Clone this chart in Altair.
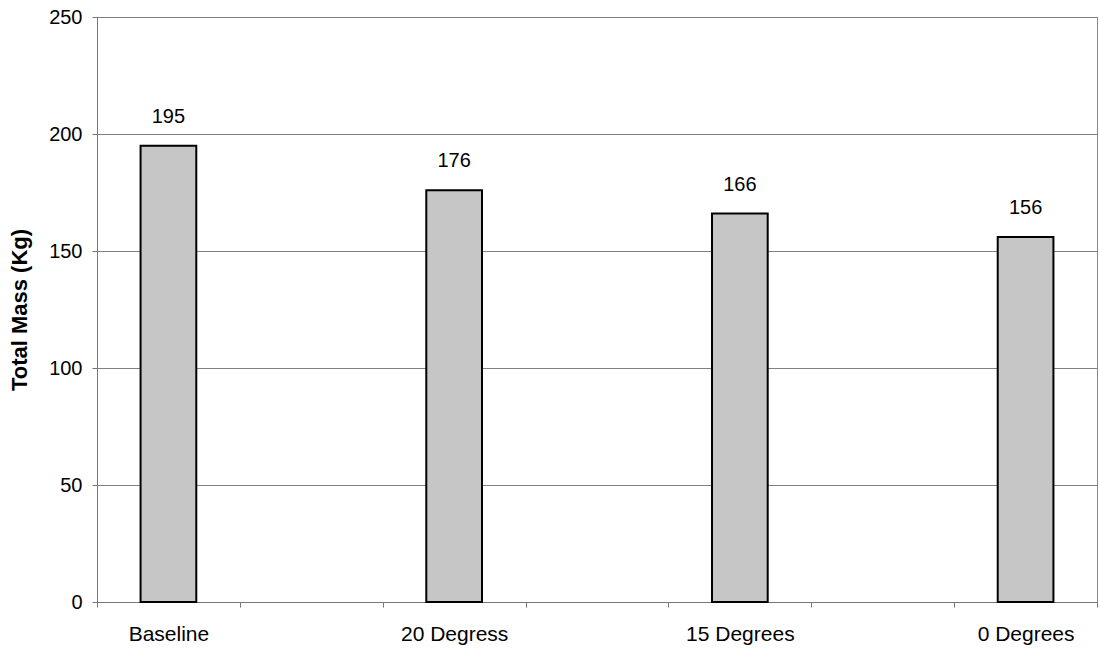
import altair as alt
import pandas as pd

# Chart values
categories = ["Baseline", "20 Degress", "15 Degrees", "0 Degrees"]
total_mass = [195, 176, 166, 156]

# Category axis has an empty slot between every pair of bars
domain = []
for i, c in enumerate(categories):
    domain.append(c)
    if i < len(categories) - 1:
        domain.append(" " * (i + 1))

df = pd.DataFrame({"config": categories, "mass": total_mass})

font = "Liberation Sans"
x_scale = alt.Scale(domain=domain, paddingInner=0, paddingOuter=0)
y_scale = alt.Scale(domain=[0, 250], nice=False, zero=True)

x = alt.X(
    "config:N",
    scale=x_scale,
    axis=alt.Axis(
        title=None,
        labelAngle=0,
        labelFontSize=21,
        labelFont=font,
        labelColor="black",
        labelPadding=16,
        tickBand="extent",
        tickSize=5,
        tickColor="#777777",
        domainColor="#777777",
        grid=False,
    ),
)

bars = alt.Chart(df).mark_bar(
    width=alt.RelativeBandSize(0.39),
    color="#c6c6c6",
    stroke="black",
    strokeWidth=2,
).encode(
    x=x,
    y=alt.Y(
        "mass:Q",
        scale=y_scale,
        axis=alt.Axis(
            title="Total Mass (Kg)",
            titleFont=font,
            titleFontSize=22,
            titleFontWeight="bold",
            titleColor="black",
            titlePadding=17,
            values=[0, 50, 100, 150, 200, 250],
            labelFont=font,
            labelFontSize=20,
            labelColor="black",
            labelPadding=10,
            tickSize=5,
            tickColor="#777777",
            domainColor="#777777",
            gridColor="#808080",
            gridWidth=1,
        ),
    ),
)

labels = alt.Chart(df).mark_text(
    dy=-19,
    fontSize=20,
    font=font,
    color="black",
    baseline="bottom",
).encode(
    x=alt.X("config:N", scale=x_scale),
    y=alt.Y("mass:Q", scale=y_scale),
    text="mass:Q",
)

chart = (
    alt.layer(bars, labels)
    .properties(
        width=1000,
        height=585,
        autosize=alt.AutoSizeParams(type="none"),
        padding={"left": 97, "top": 17, "right": 3, "bottom": 48},
        background="white",
    )
    .configure_view(stroke="#888888", strokeWidth=1)
)

chart.save("out.html", embed_options={"renderer": "svg", "actions": False})
